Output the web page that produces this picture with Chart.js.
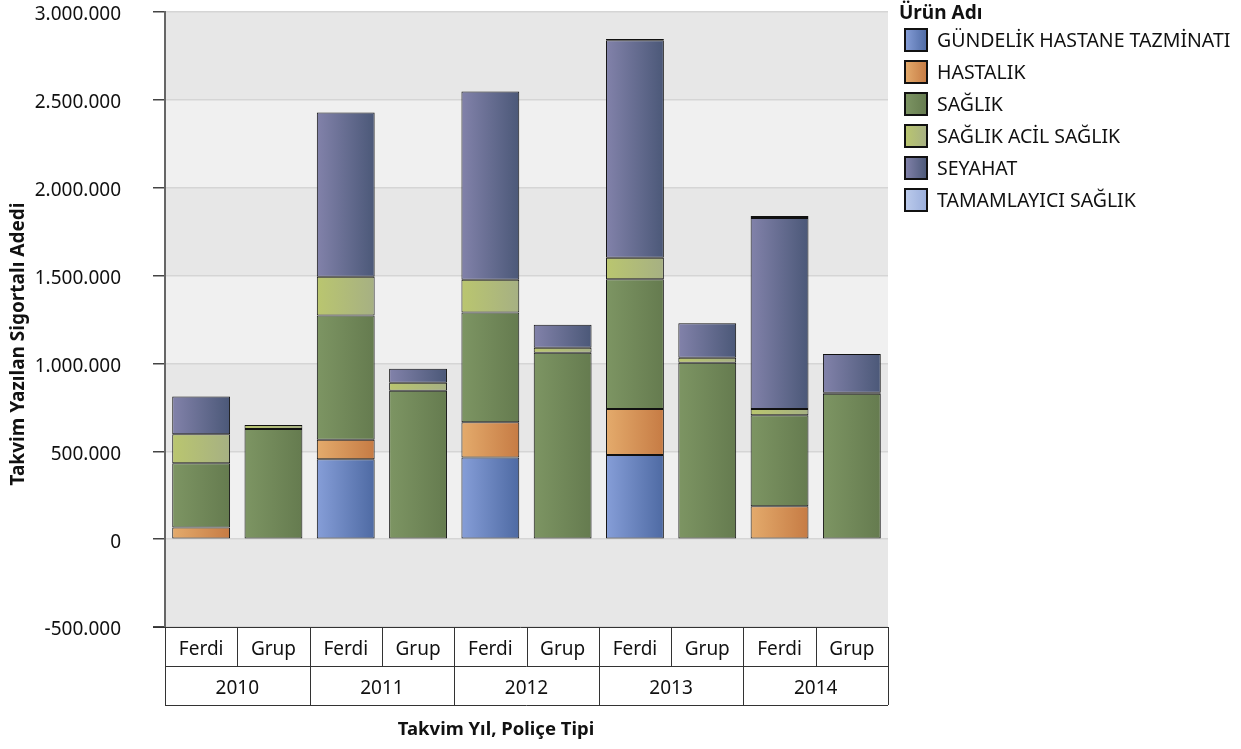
<!DOCTYPE html>
<html>
<head>
<meta charset="utf-8">
<script src="https://cdn.jsdelivr.net/npm/chart.js@4.4.1/dist/chart.umd.min.js"></script>
<style>
  html, body { margin: 0; padding: 0; background: #fff; }
  #wrap { width: 1241px; height: 749px; }
</style>
</head>
<body>
<div id="wrap"><canvas id="myChart"></canvas></div>
<script>
// categories
const years = ['2010', '2011', '2012', '2013', '2014'];
const policyTypes = ['Ferdi', 'Grup'];
const productNames = ['GÜNDELİK HASTANE TAZMİNATI', 'HASTALIK', 'SAĞLIK', 'SAĞLIK ACİL SAĞLIK', 'SEYAHAT', 'TAMAMLAYICI SAĞLIK'];

// values per bar: 2010 Ferdi, 2010 Grup, 2011 Ferdi, ... 2014 Grup
const gundelik    = [0, 0, 455000, 0, 464000, 0, 479000, 0, 0, 0];
const hastalik    = [66000, 0, 111000, 0, 201000, 0, 261000, 0, 187000, 0];
const saglik      = [366000, 627000, 707000, 845000, 625000, 1061000, 739000, 1004000, 518000, 828000];
const acilSaglik  = [165000, 22000, 220000, 45000, 186000, 28000, 123000, 28000, 35000, 5000];
const seyahat     = [215000, 0, 935000, 80000, 1071000, 131000, 1237000, 197000, 1088000, 221000];
const tamamlayici = [0, 0, 0, 0, 0, 0, 8000, 0, 11000, 0];

// y axis ticks
const yMin = -500000;
const yMax = 3000000;
const yStep = 500000;

const seriesValues = [gundelik, hastalik, saglik, acilSaglik, seyahat, tamamlayici];
// gradient left -> right
const seriesColors = [
  ['#869ed8', '#4e6aa3'],
  ['#e4ab6c', '#c67b44'],
  ['#7d9563', '#657b4f'],
  ['#bac66f', '#a6b083'],
  ['#8282aa', '#4b5878'],
  ['#bccbec', '#9aaedb']
];

Chart.defaults.font.family = "'Noto Sans', sans-serif";
Chart.defaults.color = '#111';

const labels = years.flatMap(y => policyTypes.map(t => [t, y]));
const barShare = 0.8;

function fmt(v) {
  const s = Math.abs(v).toString().replace(/\B(?=(\d{3})+(?!\d))/g, '.');
  return (v < 0 ? '-' : '') + s;
}

function barGradient(ctx, colors) {
  const chart = ctx.chart;
  const xs = chart.scales.x;
  if (!chart.chartArea || !xs || ctx.dataIndex === undefined) return colors[0];
  const cx = xs.getPixelForValue(ctx.dataIndex);
  const w = xs.width / labels.length * barShare;
  const g = chart.ctx.createLinearGradient(cx - w / 2, 0, cx + w / 2, 0);
  g.addColorStop(0, colors[0]);
  g.addColorStop(1, colors[1]);
  return g;
}

// alternating background bands between y ticks
const bandsPlugin = {
  id: 'bands',
  beforeDraw(chart) {
    const { ctx, chartArea: a, scales: { y } } = chart;
    ctx.save();
    ctx.fillStyle = '#e7e7e7';
    ctx.fillRect(a.left, a.top, a.width, a.height);
    ctx.fillStyle = '#f0f0f0';
    y.ticks.forEach((t, i) => {
      if (i < y.ticks.length - 1 && Math.round(t.value / yStep) % 2 === 0) {
        const y0 = y.getPixelForValue(t.value);
        const y1 = y.getPixelForValue(y.ticks[i + 1].value);
        ctx.fillRect(a.left, y1, a.width, y0 - y1);
      }
    });
    ctx.restore();
  }
};

// two level category table under the plot, axis titles and legend
const tablePlugin = {
  id: 'catTable',
  afterDraw(chart) {
    const { ctx, chartArea: a, scales: { x } } = chart;
    const n = labels.length;
    const cw = x.width / n;
    const top = a.bottom;
    const mid = top + 39;
    const bot = top + 78;
    ctx.save();
    ctx.strokeStyle = '#333';
    ctx.lineWidth = 1;
    ctx.beginPath();
    ctx.moveTo(a.left - 12, top + 0.5); ctx.lineTo(a.right, top + 0.5);
    ctx.moveTo(a.left, mid + 0.5); ctx.lineTo(a.right, mid + 0.5);
    ctx.moveTo(a.left, bot + 0.5); ctx.lineTo(a.right, bot + 0.5);
    for (let i = 0; i <= n; i++) {
      const bx = Math.round(x.getPixelForValue(i) - cw / 2) + 0.5;
      ctx.moveTo(bx, top);
      ctx.lineTo(bx, i % policyTypes.length === 0 ? bot : mid);
    }
    ctx.stroke();

    ctx.fillStyle = '#111';
    ctx.font = "19px 'Noto Sans'";
    ctx.textAlign = 'center';
    ctx.textBaseline = 'middle';
    labels.forEach((l, i) => {
      ctx.fillText(l[0], x.getPixelForValue(i), (top + mid) / 2 + 3);
    });
    years.forEach((yr, j) => {
      const i0 = j * policyTypes.length;
      const cx = (x.getPixelForValue(i0) + x.getPixelForValue(i0 + policyTypes.length - 1)) / 2;
      ctx.fillText(yr, cx, (mid + bot) / 2 + 3);
    });

    // axis titles
    ctx.font = "bold 18.5px 'Noto Sans'";
    ctx.fillText('Takvim Yıl, Poliçe Tipi', 496, 730);
    ctx.save();
    ctx.translate(19, 344);
    ctx.rotate(-Math.PI / 2);
    ctx.font = "bold 19px 'Noto Sans'";
    ctx.fillText('Takvim Yazılan Sigortalı Adedi', 0, 0);
    ctx.restore();

    // legend
    ctx.textAlign = 'left';
    ctx.font = "bold 19px 'Noto Sans'";
    ctx.fillText('Ürün Adı', 899, 14);
    ctx.font = "19.5px 'Noto Sans'";
    productNames.forEach((name, i) => {
      const by = 29 + i * 32;
      const g = ctx.createLinearGradient(905, 0, 927, 0);
      g.addColorStop(0, seriesColors[i][0]);
      g.addColorStop(1, seriesColors[i][1]);
      ctx.fillStyle = g;
      ctx.fillRect(905, by, 22, 22);
      ctx.strokeStyle = '#111';
      ctx.lineWidth = 2;
      ctx.strokeRect(905, by, 22, 22);
      ctx.fillStyle = '#111';
      ctx.fillText(name, 937, by + 12);
    });
    ctx.restore();
  }
};

const ctx = document.getElementById('myChart').getContext('2d');
const myChart = new Chart(ctx, {
  type: 'bar',
  data: {
    labels: labels,
    datasets: productNames.map((name, i) => ({
      label: name,
      data: seriesValues[i],
      backgroundColor: c => barGradient(c, seriesColors[i]),
      borderColor: '#111',
      borderWidth: 1,
      borderSkipped: false,
      barPercentage: barShare,
      categoryPercentage: 1
    }))
  },
  options: {
    responsive: true,
    maintainAspectRatio: false,
    animation: false,
    layout: { padding: { top: 12, right: 353, bottom: 0, left: 0 } },
    plugins: {
      legend: { display: false },
      tooltip: { enabled: false }
    },
    scales: {
      x: {
        stacked: true,
        grid: { display: false },
        border: { display: false },
        ticks: { display: false },
        afterFit(scale) { scale.height = 122; }
      },
      y: {
        stacked: true,
        min: yMin,
        max: yMax,
        grid: { color: '#d5d5d5', lineWidth: 1.5, tickColor: '#444', tickLength: 12 },
        border: { display: true, color: '#666', width: 2 },
        ticks: {
          stepSize: yStep,
          padding: 32,
          labelOffset: 3,
          font: { size: 19 },
          callback: v => fmt(v)
        },
        afterFit(scale) {
          scale.width = 165;
          scale.paddingTop = 0;
          scale.paddingBottom = 0;
        }
      }
    }
  },
  plugins: [bandsPlugin, tablePlugin]
});
</script>
</body>
</html>
